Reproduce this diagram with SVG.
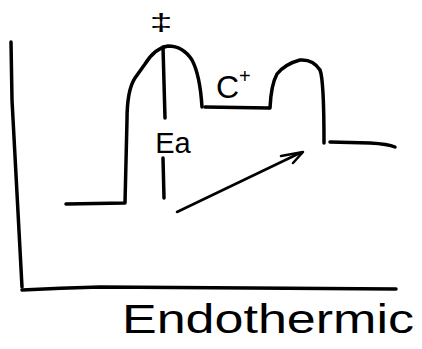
<svg xmlns="http://www.w3.org/2000/svg" width="422" height="349" viewBox="0 0 422 349">
<style>
.s{fill:none;stroke:#000;stroke-width:3.5;stroke-linecap:round;stroke-linejoin:round}
.t{font-family:"Liberation Sans",Arial,sans-serif;fill:#000}
</style>
<rect width="422" height="349" fill="#fff"/>
<g id="axes">
<path class="s" d="M11,42 L12,100 L22,287"/>
<path class="s" d="M22,290 Q60,288 100,287 L250,288 L396,289"/>
</g>
<g id="curve">
<path class="s" d="M66,204 L125,203 L127,120 Q127,90 135,78 L145,64 Q155,48 168,46 Q183,46 192,60 Q200,75 202,107"/>
<path class="s" d="M205,107 L269,108"/>
<path class="s" d="M270,108 Q271,85 277,74 Q285,64 300,60 Q313,59 320,70 Q324,80 324,143"/>
<path class="s" d="M330,142 L370,143 Q388,144 395,147"/>
</g>
<g id="ea-line">
<path class="s" d="M163,47 L165,118"/>
<path class="s" d="M163,158 L164,198"/>
</g>
<g id="arrow">
<path class="s" style="stroke-width:2.5" d="M177,212 L300,153"/>
<path class="s" style="stroke-width:2.5" d="M281,156 L303,152 L293,163"/>
</g>
<g id="labels">
<text class="t" x="161" y="31" font-size="24" text-anchor="middle" transform="translate(161 25) scale(1.7 1) translate(-161 -25)">‡</text>
<text class="t" x="173" y="153" font-size="29" text-anchor="middle">Ea</text>
<text class="t" x="216" y="98" font-size="32">C<tspan font-size="20" dy="-15">+</tspan></text>
<text class="t" x="122" y="333" font-size="40" textLength="292" lengthAdjust="spacingAndGlyphs">Endothermic</text>
</g>
</svg>
